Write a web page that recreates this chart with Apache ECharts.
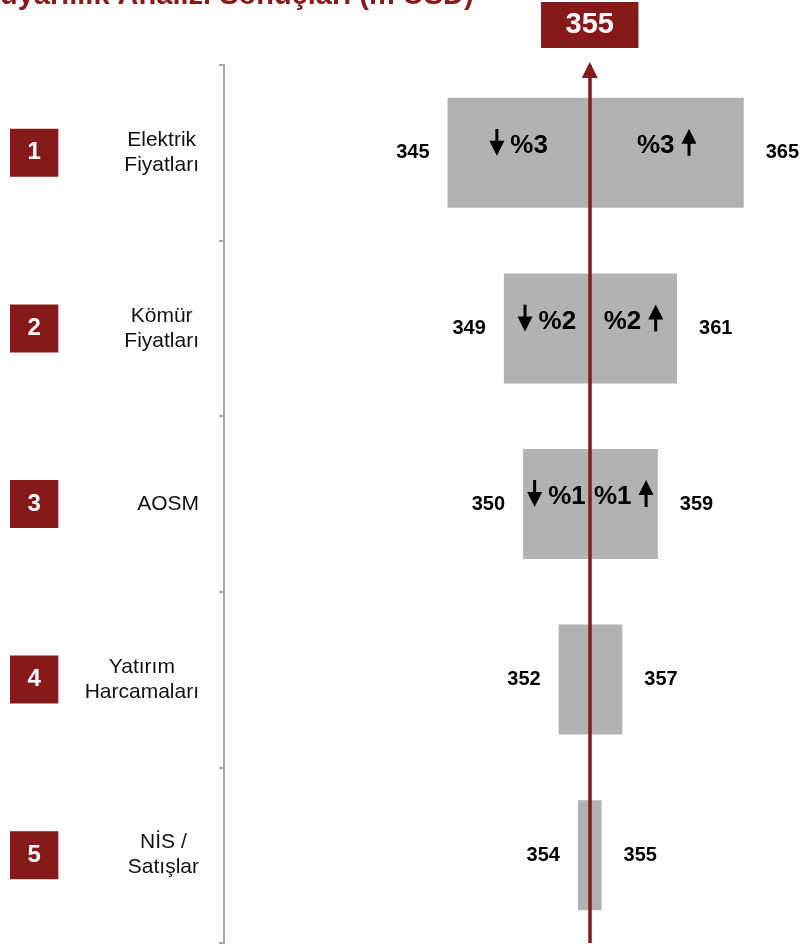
<!DOCTYPE html>
<html>
<head>
<meta charset="utf-8">
<script src="https://cdn.jsdelivr.net/npm/echarts@6/dist/echarts.min.js"></script>
<style>html,body{margin:0;padding:0;background:#fff;}#chart{width:800px;height:945px;}</style>
</head>
<body>
<div id="chart"></div>
<script>
const titleText = 'Duyarlılık Analizi Sonuçları (m USD)';
const categories = ['Elektrik\nFiyatları', 'Kömür\nFiyatları', 'AOSM', 'Yatırım\nHarcamaları', 'NİS /\nSatışlar'];
const ranks = ['1', '2', '3', '4', '5'];
const baseValue = 355;
const lowValues = [345.4, 349.2, 350.5, 352.9, 354.2];
const highValues = [365.4, 360.9, 359.6, 357.2, 355.8];
const lowLabels = ['345', '349', '350', '352', '354'];
const highLabels = ['365', '361', '359', '357', '355'];
const pctChange = [3, 2, 1, null, null];
const xMin = 330.3;
const xMax = 369.2;

const RED = '#861A1A';
const GREY = '#B2B2B2';
const AXIS = '#A6A6A6';
const SANS = '"Liberation Sans", Arial, sans-serif';

function svgUri(svg) {
  return 'data:image/svg+xml;charset=utf-8,' + encodeURIComponent(svg);
}
const downArrowSvg = svgUri("<svg xmlns='http://www.w3.org/2000/svg' width='21' height='34' viewBox='0 0 21 34'>" +
  "<rect x='6' y='0' width='3' height='14' fill='#000'/><polygon points='0,12 15,12 7.5,27' fill='#000'/></svg>");
const upArrowSvg = svgUri("<svg xmlns='http://www.w3.org/2000/svg' width='22' height='34' viewBox='0 0 22 34'>" +
  "<polygon points='14.5,0 22,15 7,15' fill='#000'/><rect x='13' y='13' width='3' height='14' fill='#000'/></svg>");

const pctRich = {
  dn: { width: 21, height: 34, backgroundColor: { image: downArrowSvg } },
  up: { width: 22, height: 34, backgroundColor: { image: upArrowSvg } },
  pc: { fontFamily: SANS, fontSize: 26, fontWeight: 'bold', color: '#000' }
};

const chart = echarts.init(document.getElementById('chart'), null, { renderer: 'canvas' });
chart.setOption({
  animation: false,
  backgroundColor: '#fff',
  title: {
    text: titleText,
    left: -21,
    top: -19,
    padding: 0,
    textStyle: { color: RED, fontSize: 29, fontWeight: 'bold', fontFamily: SANS }
  },
  grid: { left: 224, right: 0, top: 65, bottom: 2 },
  xAxis: { type: 'value', min: xMin, max: xMax, show: false },
  yAxis: [
    {
      type: 'category',
      data: categories,
      inverse: true,
      position: 'left',
      axisLine: { show: true, lineStyle: { color: AXIS, width: 2 } },
      axisTick: { show: true, length: 5, interval: 0, lineStyle: { color: AXIS, width: 2 } },
      axisLabel: {
        interval: 0,
        margin: 25,
        align: 'right',
        fontSize: 21,
        lineHeight: 25,
        color: '#111',
        fontFamily: SANS,
        formatter: v => v.split('\n').map(s => '{c|' + s + '}').join('\n'),
        rich: { c: { align: 'center', fontSize: 21, lineHeight: 25, color: '#111', fontFamily: SANS } }
      }
    },
    {
      type: 'category',
      data: ranks,
      inverse: true,
      position: 'left',
      axisLine: { show: false },
      axisTick: { show: false },
      axisLabel: {
        interval: 0,
        margin: 214,
        align: 'left',
        color: '#fff',
        fontSize: 24,
        fontWeight: 'bold',
        fontFamily: SANS,
        lineHeight: 24,
        backgroundColor: RED,
        padding: [12, 17.5, 12, 17.5]
      }
    }
  ],
  series: [
    {
      name: 'base', type: 'bar', stack: 't', barWidth: 110, silent: true,
      data: lowValues,
      itemStyle: { color: 'rgba(0,0,0,0)' }
    },
    {
      name: 'down', type: 'bar', stack: 't', barWidth: 110, silent: true,
      data: lowValues.map(v => baseValue - v),
      itemStyle: { color: GREY },
      label: {
        show: true, position: 'inside', offset: [0, -7],
        formatter: p => pctChange[p.dataIndex] == null ? '' : '{dn|}{pc|%' + pctChange[p.dataIndex] + '}',
        rich: pctRich
      }
    },
    {
      name: 'up', type: 'bar', stack: 't', barWidth: 110, silent: true,
      data: highValues.map(v => v - baseValue),
      itemStyle: { color: GREY },
      label: {
        show: true, position: 'inside', offset: [0, -7],
        formatter: p => pctChange[p.dataIndex] == null ? '' : '{pc|%' + pctChange[p.dataIndex] + '}{up|}',
        rich: pctRich
      }
    },
    {
      name: 'lowLabel', type: 'scatter', silent: true, symbolSize: 2,
      itemStyle: { color: 'rgba(0,0,0,0)' },
      data: lowValues.map((v, i) => [v, i]),
      label: {
        show: true, position: 'left', distance: 17, opacity: 1,
        formatter: p => lowLabels[p.dataIndex],
        fontFamily: SANS, fontSize: 20, fontWeight: 'bold', color: '#000'
      }
    },
    {
      name: 'highLabel', type: 'scatter', silent: true, symbolSize: 2,
      itemStyle: { color: 'rgba(0,0,0,0)' },
      data: highValues.map((v, i) => [v, i]),
      label: {
        show: true, position: 'right', distance: 21, opacity: 1,
        formatter: p => highLabels[p.dataIndex],
        fontFamily: SANS, fontSize: 20, fontWeight: 'bold', color: '#000'
      },
      markLine: {
        silent: true,
        animation: false,
        symbol: ['triangle', 'none'],
        symbolSize: [16, 16],
        symbolOffset: [[0, 5], [0, 0]],
        lineStyle: { color: RED, width: 3.5, type: 'solid' },
        label: {
          show: true, position: 'start', distance: 17,
          formatter: String(baseValue),
          color: '#fff', fontFamily: SANS, fontSize: 29, fontWeight: 'bold',
          lineHeight: 30, backgroundColor: RED, padding: [8, 24.5, 8, 24.5]
        },
        emphasis: { disabled: true },
        data: [{ xAxis: baseValue }]
      }
    }
  ]
});
</script>
</body>
</html>
